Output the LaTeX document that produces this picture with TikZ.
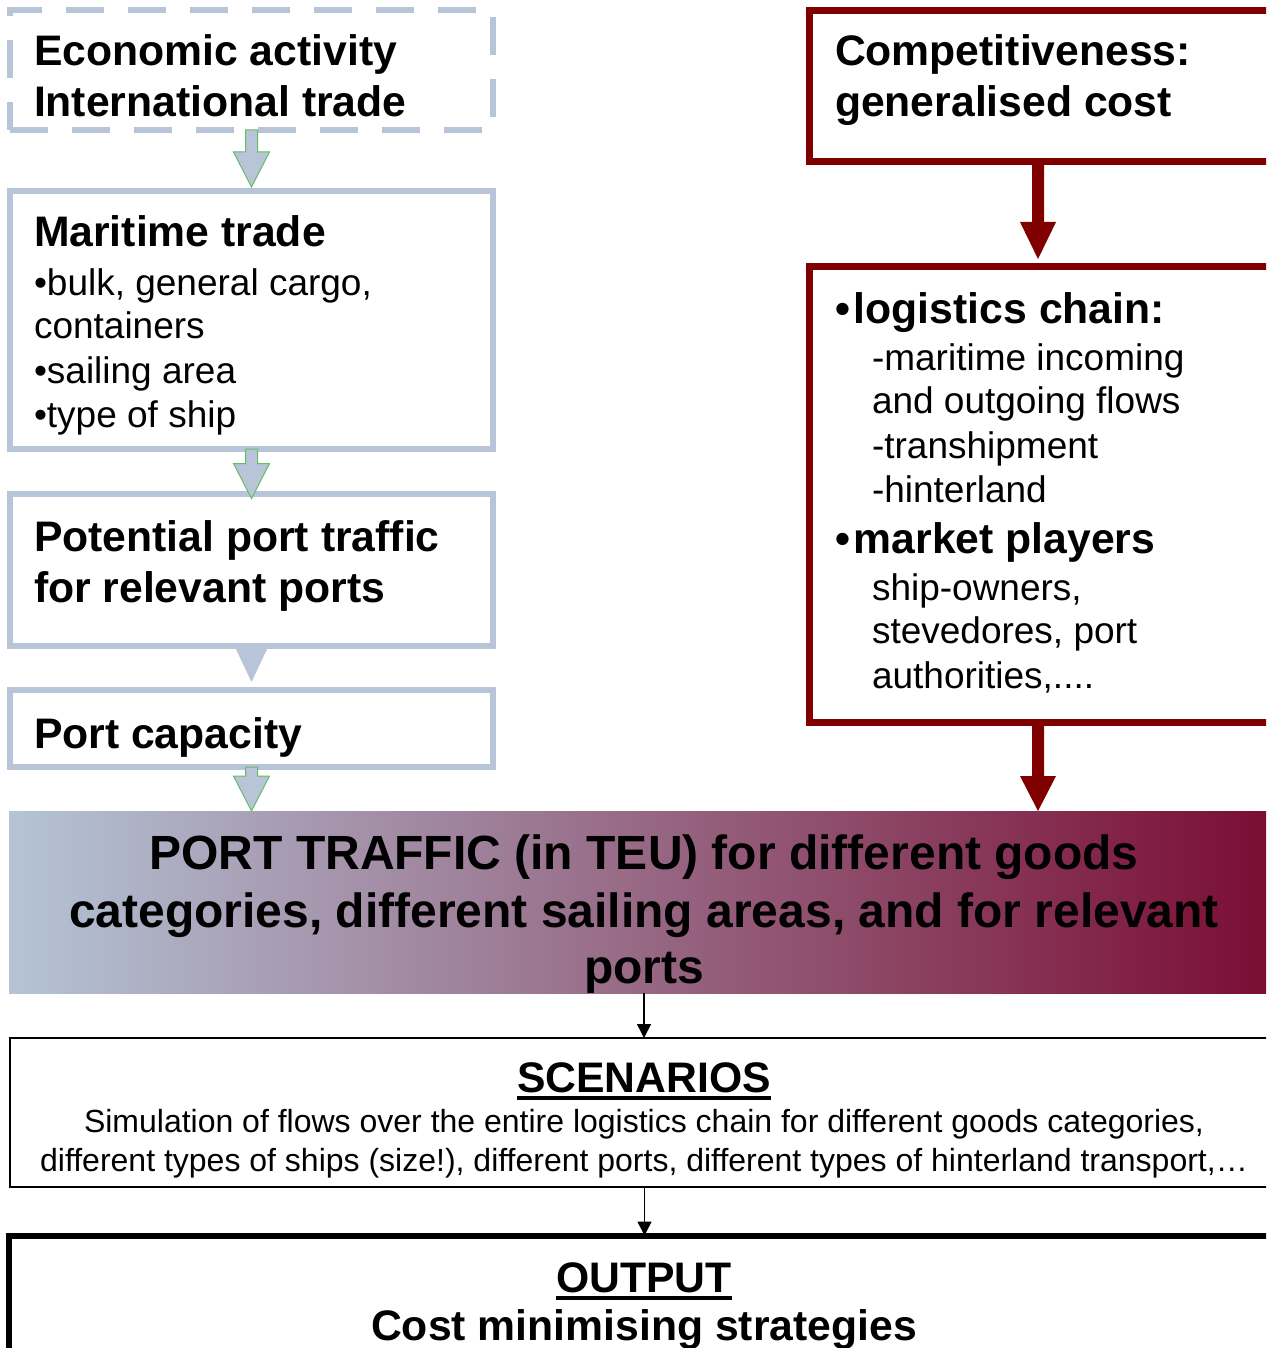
\documentclass[tikz,border=0pt]{standalone}
\usepackage{fontspec}
\setmainfont{Liberation Sans}
\usetikzlibrary{calc,arrows.meta}
\definecolor{lblue}{RGB}{184,196,216}
\definecolor{dred}{RGB}{128,0,0}
\definecolor{agreen}{RGB}{100,190,100}
\definecolor{bandL}{RGB}{180,196,214}
\definecolor{bandM}{RGB}{162,155,176}
\definecolor{bandR}{RGB}{122,12,50}
\newcommand\fH{\fontsize{42.7}{50}\selectfont\bfseries}
\newcommand\fB{\fontsize{37}{44}\selectfont}
\newcommand\fT{\fontsize{48}{58}\selectfont\bfseries}
\newcommand\fS{\fontsize{32}{39}\selectfont}
\begin{document}
\begin{tikzpicture}[x=1pt,y=-1pt,
  box/.style={draw, inner sep=0, outer sep=0, anchor=north west},
  lbox/.style={box, draw=lblue, line width=6},
  rbox/.style={box, draw=dred, line width=7},
  txt/.style={anchor=base west, inner sep=0, outer sep=0},
  ctxt/.style={anchor=base, inner sep=0, outer sep=0},
  larrow/.style={fill=lblue, draw=agreen, line width=1},
  rarrow/.style={fill=dred},
  thinarrow/.style={-{Triangle[length=14pt,width=14pt]}, line width=1.5}]
\useasboundingbox (0,0) rectangle (1266,1348);
\clip (0,0) rectangle (1266,1348);
\fill[white] (0,0) rectangle (1266,1348);

% left column boxes
\node[lbox, dash pattern=on 38pt off 24pt, minimum width=483, minimum height=120] (eco) at (10,10) {};
\node[lbox, minimum width=483, minimum height=258] (mar) at (10,191) {};
\node[lbox, minimum width=483, minimum height=152.5] (pot) at (10,493.5) {};
\node[lbox, minimum width=483, minimum height=77] (cap) at (10,690) {};

% right column boxes
\node[rbox, minimum width=466, minimum height=151] (comp) at (809,10.5) {};
\node[rbox, minimum width=466, minimum height=456] (logi) at (809,266) {};
\coordinate (rcol) at (1038,0);

% band
\node[box, draw=none, left color=bandL, middle color=bandM, right color=bandR, minimum width=1270, minimum height=182] (traffic) at (9,811) {};

% scenarios and output
\node[box, draw=black, line width=2, minimum width=1270, minimum height=149] (scen) at (9.5,1038) {};
\node[box, draw=black, line width=6, minimum width=1270, minimum height=200] (outp) at (9,1235.5) {};

% left block arrows
\draw[larrow] ($(eco.south)+(-6,0)$) |- ($(mar.north)+(-18,-39)$) -- ($(mar.north)+(0,-4)$) -- ($(mar.north)+(18,-39)$) -| ($(eco.south)+(6,0)$) -- cycle;
\draw[larrow] ($(mar.south)+(-6,0)$) |- ($(pot.north)+(-18,-30)$) -- ($(pot.north)+(0,5)$) -- ($(pot.north)+(18,-30)$) -| ($(mar.south)+(6,0)$) -- cycle;
\fill[lblue] ($(pot.south)+(-17,0)$) -- ($(cap.north)+(0,-8)$) -- ($(pot.south)+(17,0)$) -- cycle;
\draw[larrow] ($(cap.south)+(-6,0)$) |- ($(cap.south |- traffic.north)+(-18,-35)$) -- (cap.south |- traffic.north) -- ($(cap.south |- traffic.north)+(18,-35)$) -| ($(cap.south)+(6,0)$) -- cycle;

% right block arrows
\fill[rarrow] ($(rcol |- comp.south)+(-6,0)$) |- ($(rcol |- logi.north)+(-18,-44)$) -- ($(rcol |- logi.north)+(0,-7)$) -- ($(rcol |- logi.north)+(18,-44)$) -| ($(rcol |- comp.south)+(6,0)$) -- cycle;
\fill[rarrow] ($(rcol |- logi.south)+(-6,0)$) |- ($(rcol |- traffic.north)+(-18,-35)$) -- (rcol |- traffic.north) -- ($(rcol |- traffic.north)+(18,-35)$) -| ($(rcol |- logi.south)+(6,0)$) -- cycle;

% thin arrows
\draw[thinarrow] (traffic.south) -- (traffic.south |- scen.north);
\draw[thinarrow] (scen.south) -- (scen.south |- outp.north);

% texts left
\node[txt, font=\fH] (eco1) at (34,66) {Economic activity};
\node[txt, font=\fH] (eco2) at (34,117) {International trade};
\node[txt, font=\fH] (mar1) at (34,247) {Maritime trade};
\node[txt, font=\fB] (mar2) at (34,295) {•bulk, general cargo,};
\node[txt, font=\fB] (mar3) at (34,338) {containers};
\node[txt, font=\fB] (mar4) at (34,383) {•sailing area};
\node[txt, font=\fB] (mar5) at (34,427) {•type of ship};
\node[txt, font=\fH] (pot1) at (34,551) {Potential port traffic};
\node[txt, font=\fH] (pot2) at (34,602) {for relevant ports};
\node[txt, font=\fH] (cap1) at (34,748) {Port capacity};

% texts right
\node[txt, font=\fH] (comp1) at (835,66) {Competitiveness:};
\node[txt, font=\fH] (comp2) at (835,117) {generalised cost};
\node[txt, font=\fH] (logi1) at (835,323) {•\hspace{4pt}logistics chain:};
\node[txt, font=\fB] (logi2) at (872,370) {-maritime incoming};
\node[txt, font=\fB] (logi3) at (872,413) {and outgoing flows};
\node[txt, font=\fB] (logi4) at (872,458) {-transhipment};
\node[txt, font=\fB] (logi5) at (872,502) {-hinterland};
\node[txt, font=\fH] (logi6) at (835,553) {•\hspace{4pt}market players};
\node[txt, font=\fB] (logi7) at (872,600) {ship-owners,};
\node[txt, font=\fB] (logi8) at (872,643) {stevedores, port};
\node[txt, font=\fB] (logi9) at (872,688) {authorities,....};

% band text
\node[ctxt, font=\fT] (tr1) at (644,869) {PORT TRAFFIC (in TEU) for different goods};
\node[ctxt, font=\fT] (tr2) at (644,927) {categories, different sailing areas, and for relevant};
\node[ctxt, font=\fT] (tr3) at (644,983) {ports};

% scenarios text
\node[ctxt, font=\fH] (sc1) at (644,1092) {SCENARIOS};
\draw[line width=4] ($(sc1.base west)+(0,5.5)$) -- ($(sc1.base east)+(0,5.5)$);
\node[ctxt, font=\fS] (sc2) at (644,1132) {Simulation of flows over the entire logistics chain for different goods categories,};
\node[ctxt, font=\fS] (sc3) at (644,1171) {different types of ships (size!), different ports, different types of hinterland transport,…};

% output text
\node[ctxt, font=\fH] (out1) at (644,1292) {OUTPUT};
\draw[line width=4] ($(out1.base west)+(0,5.5)$) -- ($(out1.base east)+(0,5.5)$);
\node[ctxt, font=\fH] (out2) at (644,1340) {Cost minimising strategies};
\end{tikzpicture}
\end{document}
